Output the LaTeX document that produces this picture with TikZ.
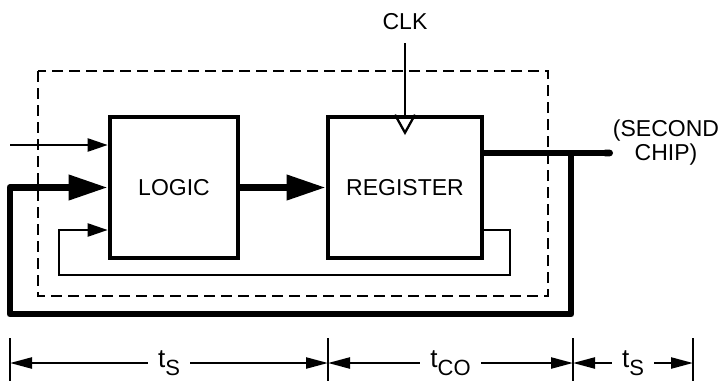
\documentclass[tikz,border=0pt]{standalone}
\usepackage{fontspec}
\setmainfont{Liberation Sans}
\usetikzlibrary{arrows.meta, calc}
\newcommand{\tsub}[1]{\raisebox{-0.6ex}{\fontsize{11}{11}\selectfont #1}}

\begin{document}
\begin{tikzpicture}[
  x=0.5pt, y=-0.5pt,
  every node/.style={font=\fontsize{11.5}{12}\selectfont, align=center},
  block/.style={draw, line width=2.3pt, minimum height=70.5pt, inner sep=0pt},
  sig/.style={line width=1.15pt},
  bus/.style={line width=3.4pt, line join=round},
  chipline/.style={line width=1.15pt, dash pattern=on 5.5pt off 3pt},
  thinhead/.style={-{Triangle[length=10pt, width=6.5pt]}},
  bushead/.style={-{Triangle[length=19.5pt, width=12pt]}},
  dimarrows/.style={{Triangle[length=11pt, width=5.5pt]}-{Triangle[length=11pt, width=5.5pt]}},
  dimlabel/.style={fill=white, inner xsep=5pt, inner ysep=1pt, font=\fontsize{13}{13}\selectfont}
]
  \useasboundingbox (0,0) rectangle (723,381);

  % chip outline
  \draw[chipline] (38,71) rectangle (548,296);

  % blocks
  \node[block, minimum width=64pt] (logic) at (174,187.5) {LOGIC};
  \node[block, minimum width=77pt] (register) at (405,187.5) {REGISTER};

  % clock input
  \node (clk) at (405,22) {CLK};
  \draw[sig] (clk.south |- 0,43) -- (register.north);
  \draw[sig] ($(register.north)+(-10,0)$) -- ++(10,18) -- ++(10,-18);

  % inputs to logic
  \coordinate (extin) at (10,145);
  \draw[sig, thinhead] (extin) -- (logic.west |- extin);
  \draw[bus, bushead] (logic.east) -- (register.west);
  \draw[sig, thinhead] (register.east |- 0,230) -| (510,275) -| (59,230) -- (logic.west |- 0,230);

  % output to second chip
  \node (second) at (666,143) {(SECOND\\CHIP)};
  \coordinate (out) at (613,153);
  \coordinate (tap) at (571,153);
  \draw[bus, -{Round Cap[]}] (register.east |- out) -- (out);
  \draw[bus, bushead] (tap) |- (10,314) |- (logic.west);

  % timing
  \foreach \x/\n in {10/a, 328/b, 573/c, 693/d} {
    \coordinate (dim\n) at (\x,363);
    \draw[sig] (\x,338) -- (\x,381);
  }
  \draw[sig, dimarrows] (dima) -- node[dimlabel] (ts1) {t\tsub{S}} (dimb);
  \draw[sig, dimarrows] (dimb) -- node[dimlabel] (tco) {t\tsub{CO}} (dimc);
  \draw[sig, dimarrows] (dimc) -- node[dimlabel] (ts2) {t\tsub{S}} (dimd);
\end{tikzpicture}
\end{document}
